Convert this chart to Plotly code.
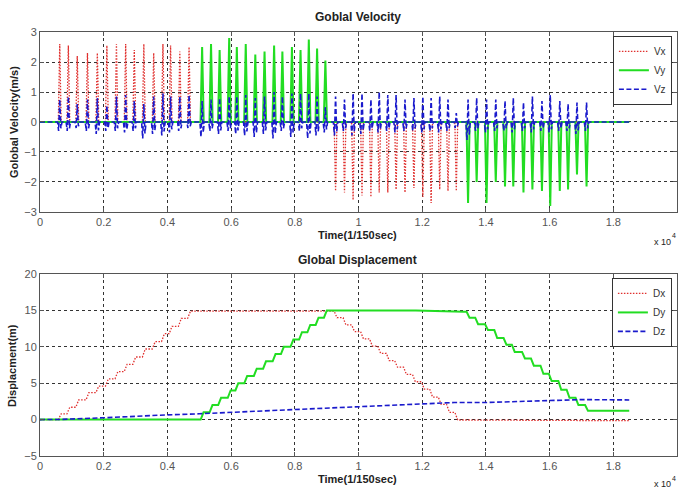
import plotly.graph_objects as go

# ---------------- data (x in units of 10^4 samples, 1/150 s) ----------------
vx_pos_t = [0.062, 0.089, 0.117, 0.149, 0.180, 0.210, 0.240, 0.269, 0.296, 0.326, 0.357, 0.386, 0.410, 0.439, 0.468]
vx_pos_a = [2.6, 2.55, 2.2, 2.3, 2.3, 2.55, 2.6, 2.6, 2.4, 2.6, 2.3, 2.6, 2.55, 2.35, 2.5]
vy_pos_t = [0.509, 0.537, 0.564, 0.594, 0.618, 0.646, 0.676, 0.705, 0.735, 0.761, 0.791, 0.818, 0.844, 0.870, 0.896]
vy_pos_a = [2.5, 2.6, 2.4, 2.8, 2.5, 2.6, 2.25, 2.35, 2.55, 2.35, 2.5, 2.4, 2.75, 2.45, 2.05]
vx_neg_t = [0.928, 0.956, 0.983, 1.011, 1.039, 1.065, 1.092, 1.118, 1.146, 1.174, 1.202, 1.228, 1.255, 1.281, 1.307]
vx_neg_a = [-2.3, -2.35, -2.6, -2.45, -2.5, -2.35, -2.35, -2.25, -2.35, -2.2, -2.5, -2.7, -2.25, -2.3, -2.3]
vy_neg_t = [1.344, 1.371, 1.402, 1.431, 1.460, 1.486, 1.518, 1.546, 1.576, 1.602, 1.632, 1.658, 1.686, 1.716]
vy_neg_a = [-2.7, -2.0, -2.7, -2.0, -2.15, -2.15, -2.35, -2.25, -2.3, -2.8, -2.3, -2.25, -1.75, -2.15]

vz_peak = [0.75, 0.85, 0.6, 0.75, 0.8, 0.55, 0.85, 0.9, 0.7, 0.6, 0.85, 0.95, 0.85, 0.85, 0.9,
           0.7, 0.75, 0.8, 0.85, 0.85, 0.9, 0.8, 0.85, 1.0, 0.85, 0.95, 0.95, 0.95, 0.85, 0.5,
           0.85, 0.75, 0.95, 0.95, 0.75, 1.0, 0.9, 0.9, 0.75, 0.8, 0.85, 0.8, 0.85, 0.75, 0.3,
           0.75, 0.8, 0.75, 0.75, 0.7, 0.8, 0.65, 0.85, 0.7, 0.9, 0.7, 0.6, 0.65, 0.65]
vz_trough = [-0.3, -0.3, -0.2, -0.3, -0.4, -0.3, -0.3, -0.35, -0.3, -0.55, -0.4, -0.45, -0.35, -0.3, -0.2,
             -0.5, -0.3, -0.4, -0.3, -0.4, -0.45, -0.5, -0.4, -0.55, -0.3, -0.5, -0.3, -0.55, -0.45, -0.35,
             -0.45, -0.3, -0.45, -0.4, -0.3, -0.35, -0.3, -0.35, -0.3, -0.3, -0.35, -0.3, -0.35, -0.3, -0.2,
             -0.6, -0.3, -0.35, -0.3, -0.3, -0.35, -0.3, -0.35, -0.3, -0.35, -0.3, -0.3, -0.4, -0.3]

t_end = 1.85

dx_up = [0.8, 1.7, 2.7, 3.7, 4.6, 5.6, 6.6, 7.6, 8.6, 9.7, 10.7, 11.8, 12.8, 13.9, 14.9]
dx_down = [14.0, 13.0, 12.1, 11.1, 10.1, 9.1, 8.1, 7.2, 6.2, 5.2, 4.2, 3.1, 2.1, 1.0, -0.05]
dx_end = -0.15
dy_up = [1.0, 2.0, 3.0, 4.0, 5.0, 6.0, 7.0, 8.0, 9.0, 10.0, 11.0, 12.0, 13.0, 14.0, 15.0]
dy_plateau_t = [1.18, 1.33]
dy_plateau = [15.0, 14.8]
dy_down = [14.0, 13.1, 12.3, 11.2, 10.3, 9.3, 8.4, 7.4, 6.3, 5.3, 4.1, 3.0, 2.0, 1.2]
dy_end = 1.2
dz_t = [0, 0.06, 0.2, 0.3, 0.4, 0.5, 0.6, 0.7, 0.8, 0.9, 1.0, 1.1, 1.2, 1.3, 1.4, 1.5, 1.6, 1.7, 1.85]
dz_v = [0, 0.02, 0.25, 0.5, 0.65, 0.8, 1.0, 1.2, 1.4, 1.55, 1.75, 1.9, 2.1, 2.35, 2.35, 2.45, 2.65, 2.75, 2.7]

x_ticks = [0, 0.2, 0.4, 0.6, 0.8, 1.0, 1.2, 1.4, 1.6, 1.8, 2.0]
x_labels = ["0", "0.2", "0.4", "0.6", "0.8", "1", "1.2", "1.4", "1.6", "1.8", "2"]

# ---------------- build series ----------------
def spikes(times, amps, hw):
    xs, ys = [0.0], [0.0]
    for t, a in zip(times, amps):
        xs += [t - hw, t, t + hw]
        ys += [0.0, a, 0.0]
    xs.append(t_end); ys.append(0.0)
    return xs, ys

def vz_series(times, peaks, troughs, hw):
    xs, ys = [0.0], [0.0]
    for t, p, q in zip(times, peaks, troughs):
        xs += [t - hw, t - hw / 2, t, t + hw / 2, t + hw]
        ys += [0.0, q, p, q * 0.7, 0.0]
    xs.append(t_end); ys.append(0.0)
    return xs, ys

def stairs(segments, hw, end_val):
    xs, ys = [0.0], [0.0]
    prev = 0.0
    for kind, times, levels in segments:
        for t, lv in zip(times, levels):
            if kind == "step":
                xs += [t - hw, t + hw]
                ys += [prev, lv]
            else:
                xs.append(t); ys.append(lv)
            prev = lv
    xs.append(t_end); ys.append(end_val)
    return xs, ys

vx_x, vx_y = spikes(vx_pos_t + vx_neg_t, vx_pos_a + vx_neg_a, 0.0045)
vy_x, vy_y = spikes(vy_pos_t + vy_neg_t, vy_pos_a + vy_neg_a, 0.005)
vz_x, vz_y = vz_series(vx_pos_t + vy_pos_t + vx_neg_t + vy_neg_t, vz_peak, vz_trough, 0.007)

dx_x, dx_y = stairs([("step", vx_pos_t, dx_up), ("step", vx_neg_t, dx_down)], 0.0045, dx_end)
dy_x, dy_y = stairs([("step", vy_pos_t, dy_up), ("knot", dy_plateau_t, dy_plateau),
                     ("step", vy_neg_t, dy_down)], 0.0045, dy_end)

RED = "#e0302e"
GREEN = "#22dd22"
BLUE = "#1a1acc"
RED_DOT = "1.5px,1.5px"
BLUE_DASH = "5px,2.5px"

fig = go.Figure()
fig.add_trace(go.Scatter(x=vx_x, y=vx_y, mode="lines", name="Vx", line=dict(color=RED, width=1.3, dash=RED_DOT),
                         xaxis="x", yaxis="y", legend="legend"))
fig.add_trace(go.Scatter(x=vy_x, y=vy_y, mode="lines", name="Vy", line=dict(color=GREEN, width=2),
                         xaxis="x", yaxis="y", legend="legend"))
fig.add_trace(go.Scatter(x=vz_x, y=vz_y, mode="lines", name="Vz", line=dict(color=BLUE, width=1.6, dash=BLUE_DASH),
                         xaxis="x", yaxis="y", legend="legend"))

fig.add_trace(go.Scatter(x=dx_x, y=dx_y, mode="lines", name="Dx", line=dict(color=RED, width=1.3, dash=RED_DOT),
                         xaxis="x2", yaxis="y2", legend="legend2"))
fig.add_trace(go.Scatter(x=dy_x, y=dy_y, mode="lines", name="Dy", line=dict(color=GREEN, width=2),
                         xaxis="x2", yaxis="y2", legend="legend2"))
fig.add_trace(go.Scatter(x=dz_t, y=dz_v, mode="lines", name="Dz", line=dict(color=BLUE, width=1.6, dash=BLUE_DASH),
                         xaxis="x2", yaxis="y2", legend="legend2"))

FONT = "Liberation Sans, Arial, sans-serif"
axis_common = dict(showline=True, linecolor="#555", linewidth=1, mirror="ticks",
                   ticks="inside", ticklen=4, tickcolor="#555",
                   showgrid=True, gridcolor="#333", griddash="dot", gridwidth=1,
                   zeroline=False, tickfont=dict(family=FONT, size=11, color="#555"),
                   automargin=False)

fig.update_layout(
    width=678, height=490,
    margin=dict(l=40, r=1, t=32, b=34),
    paper_bgcolor="white", plot_bgcolor="white",
    font=dict(family=FONT),
    xaxis=dict(domain=[0, 1], anchor="y", range=[0, 2], tickvals=x_ticks, ticktext=x_labels, **axis_common),
    yaxis=dict(domain=[0.5755, 1], anchor="x", range=[-3, 3], dtick=1, **axis_common),
    xaxis2=dict(domain=[0, 1], anchor="y2", range=[0, 2], tickvals=x_ticks, ticktext=x_labels, **axis_common),
    yaxis2=dict(domain=[0, 0.4292], anchor="x2", range=[-5, 20], dtick=5, **axis_common),
    legend=dict(x=0.992, y=0.991, xanchor="right", yanchor="top", bgcolor="white",
                bordercolor="#333", borderwidth=1, font=dict(family=FONT, size=10, color="#333"),
                tracegroupgap=0),
    legend2=dict(x=0.992, y=0.42, xanchor="right", yanchor="top", bgcolor="white",
                 bordercolor="#333", borderwidth=1, font=dict(family=FONT, size=10, color="#333"),
                 tracegroupgap=0),
    showlegend=True,
)

ann = [
    dict(text="<b>Goblal Velocity</b>", x=0.499, y=1.035, size=12),
    dict(text="<b>Global Displacement</b>", x=0.499, y=0.4623, size=12),
    dict(text="<b>Time(1/150sec)</b>", x=0.499, y=0.5212, size=11),
    dict(text="<b>Time(1/150sec)</b>", x=0.499, y=-0.0542, size=11),
    dict(text="x 10", x=0.978, y=0.505, size=9),
    dict(text="4", x=0.995, y=0.519, size=7),
    dict(text="x 10", x=0.978, y=-0.067, size=9),
    dict(text="4", x=0.995, y=-0.053, size=7),
]
for a in ann:
    fig.add_annotation(text=a["text"], x=a["x"], y=a["y"], xref="paper", yref="paper",
                       xanchor="center", yanchor="middle", showarrow=False,
                       font=dict(family=FONT, size=a["size"], color="#222"))

fig.add_annotation(text="<b>Golobal Velocity(m/s)</b>", x=-0.0408, y=0.7877, xref="paper", yref="paper",
                   textangle=-90, showarrow=False, xanchor="center", yanchor="middle",
                   font=dict(family=FONT, size=11, color="#222"))
fig.add_annotation(text="<b>Displacment(m)</b>", x=-0.044, y=0.2146, xref="paper", yref="paper",
                   textangle=-90, showarrow=False, xanchor="center", yanchor="middle",
                   font=dict(family=FONT, size=11, color="#222"))

fig.write_html("out.html")
